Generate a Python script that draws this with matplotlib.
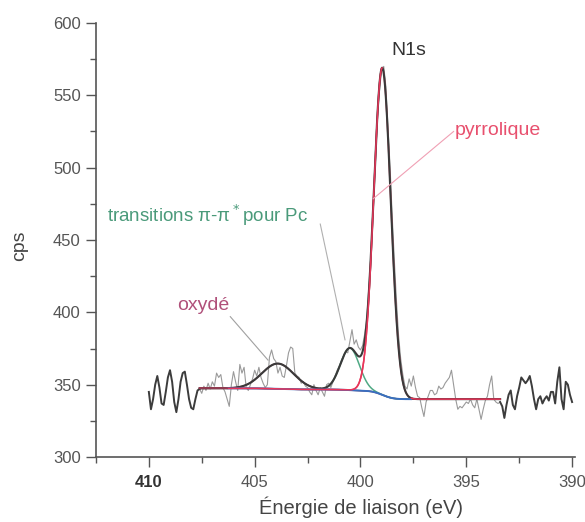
import numpy as np
import matplotlib
matplotlib.use("Agg")
import matplotlib.pyplot as plt
from matplotlib.ticker import MultipleLocator

plt.rcParams['font.family'] = ['Liberation Sans', 'DejaVu Sans']

# ---- data -------------------------------------------------------------
# raw counts, 410.0 eV -> 390.0 eV, 0.1 eV step
cps_raw = [
    345, 333, 340, 350, 356, 348, 337, 336, 345, 355,   # 410.0-409.1
    360, 352, 338, 331, 340, 352, 358, 359, 350, 340,   # 409.0-408.1
    334, 333, 340, 346, 347, 344, 349, 346, 351, 347,   # 408.0-407.1
    352, 349, 358, 355, 357, 348, 345, 340, 335, 350,   # 407.0-406.1
    359, 352, 346, 364, 358, 362, 348, 346, 350, 354,   # 406.0-405.1
    360, 356, 362, 355, 351, 348, 350, 369, 374, 368,   # 405.0-404.1
    366, 358, 362, 356, 355, 363, 372, 376, 375, 358,   # 404.0-403.1
    356, 355, 351, 352, 349, 348, 345, 343, 350, 346,   # 403.0-402.1
    343, 348, 345, 342, 350, 351, 348, 352, 356, 360,   # 402.0-401.1
    363, 367, 370, 373, 372, 380, 388, 378, 381, 376,   # 401.0-400.1
    374, 377, 385, 396, 418, 442, 475, 503, 535, 553,   # 400.0-399.1
    568, 570, 556, 528, 500, 466, 436, 408, 384, 368,   # 399.0-398.1
    357, 349, 347, 354, 349, 356, 348, 342, 341, 334,   # 398.0-397.1
    328, 338, 342, 346, 346, 343, 344, 349, 347, 348,   # 397.0-396.1
    351, 353, 355, 360, 350, 340, 333, 335, 334, 336,   # 396.0-395.1
    338, 337, 340, 336, 334, 340, 333, 326, 333, 339,   # 395.0-394.1
    342, 350, 356, 340, 338, 337, 338, 335, 327, 336,   # 394.0-393.1
    343, 346, 336, 333, 342, 348, 355, 353, 351, 353,   # 393.0-392.1
    356, 349, 340, 333, 340, 342, 337, 340, 342, 339,   # 392.0-391.1
    345, 345, 337, 352, 362, 340, 333, 352, 350, 343,   # 391.0-390.1
    338,                                                # 390.0
]
energy_start, energy_end = 410.0, 390.0

# fit region and Shirley background end levels
fit_range = [407.6, 393.4]
bg_high, bg_low = 347.5, 340.0

# fitted components: name, centre (eV), height (cps), sigma (eV)
comp_names   = ["oxydé", "transitions π-π*", "pyrrolique"]
comp_centers = [403.9, 400.5, 398.97]
comp_heights = [17.5, 29.0, 226.0]
comp_sigmas  = [0.75, 0.45, 0.40]
comp_colors  = ["#8e3b52", "#4fa984", "#e8365a"]

x_ticks = [410, 405, 400, 395, 390]
y_ticks = [300, 350, 400, 450, 500, 550, 600]

# ---- model curves -----------------------------------------------------
E = np.linspace(energy_start, energy_end, len(cps_raw))
y = np.array(cps_raw, dtype=float)

Ef = np.linspace(fit_range[0], fit_range[1], 800)
peaks = [h * np.exp(-(Ef - c) ** 2 / (2 * s ** 2))
         for c, h, s in zip(comp_centers, comp_heights, comp_sigmas)]
total_peak = np.sum(peaks, axis=0)
# Shirley: background proportional to peak area on the low-BE side
cum = np.cumsum(total_peak[::-1])[::-1]
bg = bg_low + (bg_high - bg_low) * cum / cum[0]
envelope = bg + total_peak

# ---- figure -----------------------------------------------------------
fig = plt.figure(figsize=(5.85, 5.22), dpi=100)
ax = fig.add_axes([0.164, 0.1245, 0.819, 0.8315])

inside = (E <= fit_range[0] + 1e-9) & (E >= fit_range[1] - 1e-9)
left = E >= fit_range[0] - 1e-9
right = E <= fit_range[1] + 1e-9

ax.plot(E[left], y[left], color="#3c3c3c", lw=1.4, zorder=3)
ax.plot(E[right], y[right], color="#3c3c3c", lw=1.4, zorder=3)
ax.plot(E[inside], y[inside], color="#9a9a9a", lw=0.8, zorder=2)

for pk, col in zip(peaks, comp_colors):
    ax.plot(Ef, bg + pk, color=col, lw=1.1, zorder=4)

mid = (Ef <= 406.3) & (Ef >= 397.6)
ax.plot(Ef[mid], bg[mid], color="#3a6fc0", lw=1.4, zorder=5)
ax.plot(Ef, envelope, color="#3a3a3a", lw=1.5, zorder=4.5)

# component lines visible on top at the edges of the fit window
red_top = (Ef >= comp_centers[2]) | (Ef <= 397.6)
red_line = np.where(red_top, bg + peaks[2], np.nan)
ax.plot(Ef, red_line, color=comp_colors[2], lw=1.1, zorder=6)
brown_top = Ef >= 406.3
ax.plot(Ef[brown_top], (bg + peaks[0])[brown_top], color=comp_colors[0], lw=1.1, zorder=6)

# annotations
ax.text(397.7, 581, "N1s", color="#333333", fontsize=14, ha="center", va="center")
ax.text(395.55, 526, "pyrrolique", color="#e8506e", fontsize=14, ha="left", va="center")
ax.plot([395.6, 399.4], [525, 478.5], color="#f0a0b4", lw=0.8, zorder=7)
ax.text(412.0, 467, "transitions π-π$^*$pour Pc", color="#4a9a7a", fontsize=13.5,
        ha="left", va="center")
ax.plot([401.9, 400.73], [461, 381], color="#b0b0b0", lw=0.8, zorder=7)
ax.text(407.45, 405, "oxydé", color="#b0507a", fontsize=14, ha="center", va="center")
ax.plot([406.15, 404.37], [397, 367], color="#a0a0a0", lw=0.8, zorder=7)

ax.set_xlim(412.5, 389.86)
ax.set_ylim(300, 600)
ax.set_xticks(x_ticks)
ax.set_yticks(y_ticks)
ax.xaxis.set_minor_locator(MultipleLocator(2.5))
ax.yaxis.set_minor_locator(MultipleLocator(25))
ax.tick_params(which="major", direction="out", length=7, width=1, colors="#555555",
               labelsize=12, labelcolor="#555555")
ax.tick_params(which="minor", direction="out", length=4, width=1, colors="#555555")
ax.tick_params(axis="x", pad=6)
ax.tick_params(axis="y", pad=4)
for lab in ax.get_xticklabels():
    if lab.get_text() == "410":
        lab.set_fontweight("bold")
        lab.set_color("#333333")

for s in ["top", "right"]:
    ax.spines[s].set_visible(False)
for s in ["left", "bottom"]:
    ax.spines[s].set_color("#555555")
    ax.spines[s].set_linewidth(1.2)

fig.text(0.034, 0.53, "cps", rotation=90, fontsize=14, color="#444444",
         ha="center", va="center")
fig.text(361 / 585, 1 - 507 / 522, "Énergie de liaison (eV)", fontsize=14.5,
         color="#444444", ha="center", va="center")

fig.savefig("out.png", dpi=100)
